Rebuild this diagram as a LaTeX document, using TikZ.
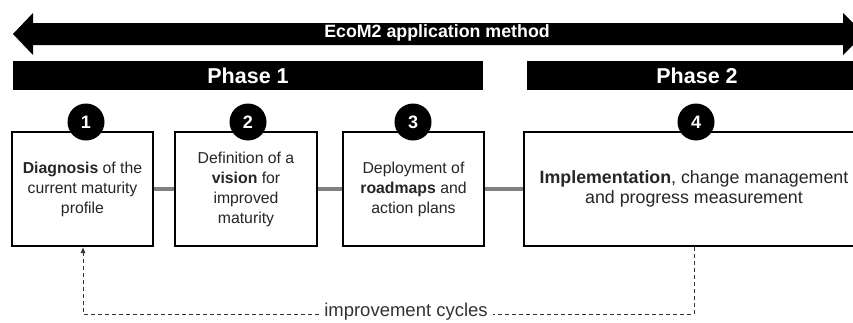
\documentclass[tikz,border=0pt]{standalone}
\usepackage{fontspec}
\setmainfont{Liberation Sans}
\usetikzlibrary{arrows.meta}
\begin{document}
\begin{tikzpicture}[x=1pt,y=-1pt,
  stepbox/.style={draw=black,line width=2pt,fill=white,align=center,
    font=\fontsize{15.8}{20}\selectfont,inner sep=0pt,text=black!85},
  num/.style={circle,fill=black,text=white,font=\bfseries\fontsize{18}{18}\selectfont,
    minimum size=37pt,inner sep=0pt},
  bar/.style={fill=black,text=white,font=\bfseries\fontsize{21.5}{21.5}\selectfont,
    inner sep=0pt,minimum height=29pt},
  link/.style={draw=black!50,line width=3.5pt},
  cyc/.style={draw=black!80,line width=1pt,dash pattern=on 4pt off 3pt}]
\useasboundingbox (0,0) rectangle (853,322);
\clip (0,0) rectangle (853,322);
% top double arrow
\fill[black] (13,34) -- (33,13) -- (33,23) -- (843,23) -- (843,13) -- (864,34)
  -- (843,55) -- (843,45) -- (33,45) -- (33,55) -- cycle;
\node[text=white,font=\bfseries\fontsize{17.8}{17.8}\selectfont] (title) at (437,33) {EcoM2 application method};
% phase bars
\node[bar,minimum width=470pt] (p1) at (248,75.5) {Phase 1};
\node[bar,minimum width=340pt] (p2) at (697,75.5) {Phase 2};
% boxes
\node[stepbox,minimum width=141pt,minimum height=114pt] (b1) at (82.5,189) {\textbf{Diagnosis} of the\\current maturity\\profile};
\node[stepbox,minimum width=142pt,minimum height=114pt] (b2) at (246,189) {Definition of a\\\textbf{vision} for\\improved\\maturity};
\node[stepbox,minimum width=141pt,minimum height=114pt] (b3) at (413.5,189) {Deployment of\\\textbf{roadmaps} and\\action plans};
\node[stepbox,minimum width=340pt,minimum height=114pt,font=\fontsize{17.8}{20.5}\selectfont] (b4) at (694,189) {\textbf{Implementation}, change management\\and progress measurement};
% links
\draw[link] (b1.east) -- (b2.west);
\draw[link] (b2.east) -- (b3.west);
\draw[link] (b3.east) -- (b4.west);
% numbers
\node[num] (n1) at (86,122) {1};
\node[num] (n2) at (248,122) {2};
\node[num] (n3) at (413,122) {3};
\node[num] (n4) at (696,122) {4};
% improvement cycles
\node[font=\fontsize{18.5}{18.5}\selectfont,text=black!80,fill=white,inner xsep=5pt,inner ysep=0pt] (cyc) at (406,311.5) {improvement cycles};
\coordinate (c4) at (694,314);
\coordinate (c1) at (83,314);
\draw[cyc] (b4.south -| c4) -- (c4) -- (c4 -| cyc.east);
\draw[cyc,-{Latex[length=6pt,width=5pt]}] (c1 -| cyc.west) -- (c1) -- (b1.south -| c1);
\end{tikzpicture}
\end{document}
